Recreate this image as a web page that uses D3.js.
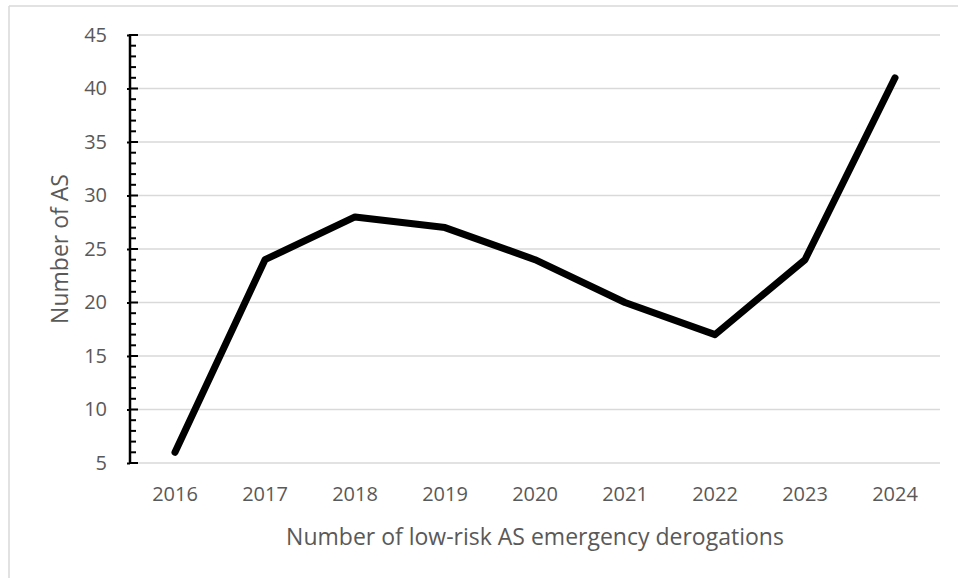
<!DOCTYPE html>
<html>
<head>
<meta charset="utf-8">
<script src="https://cdn.jsdelivr.net/npm/d3@7"></script>
<style>
  html, body { margin: 0; padding: 0; background: #ffffff; }
  svg { display: block; }
  text { font-family: "Open Sans", "Noto Sans", sans-serif; fill: #595959; }
</style>
</head>
<body>
<svg id="chart" width="958" height="578"></svg>
<script>
// Yearly counts of low-risk AS emergency derogations
const years = ["2016", "2017", "2018", "2019", "2020", "2021", "2022", "2023", "2024"];
const counts = [6, 24, 28, 27, 24, 20, 17, 24, 41];
const yTicks = [5, 10, 15, 20, 25, 30, 35, 40, 45];
const xTitle = "Number of low-risk AS emergency derogations";
const yTitle = "Number of AS";

const svg = d3.select("#chart");
const W = 958, H = 578;
const plot = { left: 130, right: 940, top: 35, bottom: 463 };

// outer chart frame (top and left edges visible)
svg.append("line").attr("x1", 9).attr("x2", W).attr("y1", 6).attr("y2", 6)
  .attr("stroke", "#d9d9d9").attr("stroke-width", 1.5);
svg.append("line").attr("x1", 9).attr("x2", 9).attr("y1", 6).attr("y2", H)
  .attr("stroke", "#d9d9d9").attr("stroke-width", 1.5);

const x = d3.scaleBand().domain(years).range([plot.left, plot.right]);
const y = d3.scaleLinear().domain([5, 45]).range([plot.bottom, plot.top]);

// horizontal gridlines
svg.append("g").selectAll("line").data(yTicks).join("line")
  .attr("x1", plot.left).attr("x2", plot.right)
  .attr("y1", d => y(d)).attr("y2", d => y(d))
  .attr("stroke", "#d9d9d9").attr("stroke-width", 1.5);

// y axis: major ticks with labels, minor ticks every unit
const yAxis = svg.append("g").attr("transform", `translate(${plot.left},0)`)
  .call(d3.axisLeft(y).tickValues(yTicks).tickSize(3).tickPadding(20).tickFormat(d3.format("d")));
yAxis.select(".domain").remove();
yAxis.selectAll(".tick line").attr("stroke", "#000").attr("stroke-width", 2);
yAxis.selectAll(".tick text").attr("font-size", 20).style("fill", "#595959")
  .attr("font-family", "'Open Sans', sans-serif");

const minor = d3.range(5, 46, 1);
svg.append("g").selectAll("line").data(minor).join("line")
  .attr("x1", plot.left).attr("x2", d => plot.left + (d % 5 === 0 ? 8 : 6))
  .attr("y1", d => y(d)).attr("y2", d => y(d))
  .attr("stroke", "#000").attr("stroke-width", 2);
svg.append("line").attr("x1", plot.left).attr("x2", plot.left)
  .attr("y1", y(45) - 1).attr("y2", y(5))
  .attr("stroke", "#000").attr("stroke-width", 2.5);

// x axis labels
const xAxis = svg.append("g").attr("transform", `translate(0,${plot.bottom})`)
  .call(d3.axisBottom(x).tickSize(0).tickPadding(24));
xAxis.select(".domain").remove();
xAxis.selectAll(".tick text").attr("font-size", 20).style("fill", "#595959")
  .attr("font-family", "'Open Sans', sans-serif");

// data line
const line = d3.line()
  .x((d, i) => x(years[i]) + x.bandwidth() / 2)
  .y(d => y(d));
svg.append("path").datum(counts)
  .attr("d", line)
  .attr("fill", "none").attr("stroke", "#000").attr("stroke-width", 7)
  .attr("stroke-linejoin", "round").attr("stroke-linecap", "round");

// axis titles
svg.append("text").attr("x", (plot.left + plot.right) / 2).attr("y", 545)
  .attr("text-anchor", "middle").attr("font-size", 23).text(xTitle);
svg.append("text").attr("transform", `translate(68,249) rotate(-90)`)
  .attr("text-anchor", "middle").attr("font-size", 23).text(yTitle);
</script>
</body>
</html>
